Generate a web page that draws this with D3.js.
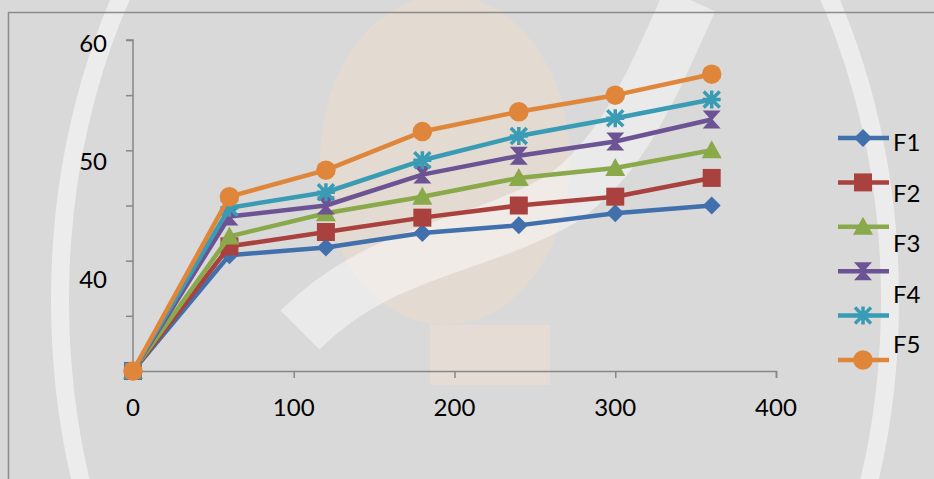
<!DOCTYPE html>
<html>
<head>
<meta charset="utf-8">
<script src="https://cdn.jsdelivr.net/npm/d3@7"></script>
<style>
  html, body { margin: 0; padding: 0; background: #d9d9d9; }
  svg { display: block; font-family: Lato, "Open Sans", sans-serif; }
</style>
</head>
<body>
<div id="chart"></div>
<script>
// ── Data ─────────────────────────────────────────────────────────────────
const times = [0, 60, 120, 180, 240, 300, 360];
const seriesNames = ['F1', 'F2', 'F3', 'F4', 'F5', 'F6'];
const f1 = [30, 40.5, 41.2, 42.5, 43.2, 44.3, 45.0];
const f2 = [30, 41.3, 42.6, 43.9, 45.0, 45.8, 47.5];
const f3 = [30, 42.2, 44.3, 45.8, 47.5, 48.4, 50.0];
const f4 = [30, 44.0, 45.0, 47.8, 49.5, 50.8, 52.8];
const f5 = [30, 44.8, 46.2, 49.1, 51.3, 52.9, 54.6];
const f6 = [30, 45.8, 48.2, 51.7, 53.5, 55.0, 56.9];
const xTicks = [0, 100, 200, 300, 400];
const yTicks = [30, 35, 40, 45, 50, 55, 60];
const yLabels = [40, 50, 60];

// ── Layout ───────────────────────────────────────────────────────────────
const WIDTH = 934;
const HEIGHT = 479;
const COLORS = ['#4270ad', '#a9413e', '#8aa94b', '#6c5393', '#3a9bb4', '#e0863b'];
const SHAPES = ['diamond', 'square', 'triangle', 'hourglass', 'star', 'circle'];
const AXIS_COLOR = '#878787';
const FONT_SIZE = 24;

const series = seriesNames.map((name, i) => ({
  name,
  values: [f1, f2, f3, f4, f5, f6][i],
  color: COLORS[i],
  shape: SHAPES[i]
}));

function markerPath(shape) {
  switch (shape) {
    case 'diamond': return 'M0,-9L9,0L0,9L-9,0Z';
    case 'square': return 'M-9,-9H9V9H-9Z';
    case 'triangle': return 'M0,-10L10,8H-10Z';
    case 'hourglass': return 'M-9,-9H9L1,0L9,9H-9L-1,0Z';
    case 'circle': return d3.symbol(d3.symbolCircle, 300)();
    default: return null;
  }
}

function drawMarker(g, shape, color) {
  if (shape === 'star') {
    g.append('path')
      .attr('d', 'M-8,-8L8,8M-8,8L8,-8M0,-9V9M-9,0H9')
      .attr('stroke', color)
      .attr('stroke-width', 3.5)
      .attr('fill', 'none');
  } else {
    g.append('path').attr('d', markerPath(shape)).attr('fill', color);
  }
}

const svg = d3.select('#chart').append('svg')
  .attr('width', WIDTH)
  .attr('height', HEIGHT);

// faint watermark behind the chart
const wm = svg.append('g');
wm.append('ellipse')
  .attr('cx', 445).attr('cy', 160).attr('rx', 125).attr('ry', 165)
  .attr('fill', '#f6dcc6').attr('opacity', 0.35);
wm.append('rect')
  .attr('x', 430).attr('y', 325).attr('width', 120).attr('height', 60)
  .attr('fill', '#f3e1d3').attr('opacity', 0.45);
wm.append('path')
  .attr('d', 'M300,330 C380,250 470,250 560,200 C620,160 650,90 690,0')
  .attr('stroke', '#ffffff').attr('stroke-width', 55).attr('fill', 'none').attr('opacity', 0.45);
wm.append('ellipse')
  .attr('cx', 475).attr('cy', 300).attr('rx', 415).attr('ry', 580)
  .attr('stroke', '#ffffff').attr('stroke-width', 18).attr('fill', 'none').attr('opacity', 0.5);

// chart area border
svg.append('rect')
  .attr('x', 8.5).attr('y', 12.5)
  .attr('width', WIDTH).attr('height', HEIGHT)
  .attr('fill', 'none')
  .attr('stroke', '#8c8c8c')
  .attr('stroke-width', 1.5);

// ── Scales ───────────────────────────────────────────────────────────────
const x = d3.scaleLinear().domain([0, 400]).range([133, 776]);
const y = d3.scaleLinear().domain([30, 60]).range([371, 40]);
// Excel drew the value labels on a slightly stretched grid
const yLabelPos = d3.scaleLinear().domain([40, 60]).range([280, 44]);

// ── Axes ─────────────────────────────────────────────────────────────────
const yAxis = svg.append('g')
  .attr('transform', `translate(${x(0)},0)`)
  .call(d3.axisLeft(y).tickValues(yTicks).tickSize(7).tickFormat(''));
const xAxis = svg.append('g')
  .attr('transform', `translate(0,${y(30)})`)
  .call(d3.axisBottom(x).tickValues(xTicks).tickSize(7).tickSizeOuter(7).tickFormat(''));
[xAxis, yAxis].forEach((a) => {
  a.selectAll('path, line').attr('stroke', AXIS_COLOR).attr('stroke-width', 1.5);
});
yAxis.select('.domain').attr('d', `M-7,${y(60)}H0V${y(30)}`);

svg.append('g').selectAll('text')
  .data(yLabels)
  .join('text')
  .attr('x', 107)
  .attr('y', (d) => yLabelPos(d))
  .attr('dy', '0.35em')
  .attr('text-anchor', 'end')
  .attr('font-size', FONT_SIZE)
  .text((d) => d);

svg.append('g').selectAll('text')
  .data(xTicks)
  .join('text')
  .attr('x', (d) => x(d))
  .attr('y', 408)
  .attr('dy', '0.35em')
  .attr('text-anchor', 'middle')
  .attr('font-size', FONT_SIZE)
  .text((d) => d);

// ── Series ───────────────────────────────────────────────────────────────
const line = d3.line()
  .x((d, i) => x(times[i]))
  .y((d) => y(d));

series.forEach((s) => {
  const g = svg.append('g');
  g.append('path')
    .attr('d', line(s.values))
    .attr('fill', 'none')
    .attr('stroke', s.color)
    .attr('stroke-width', 4.5)
    .attr('stroke-linejoin', 'round');
  s.values.forEach((v, i) => {
    const m = g.append('g').attr('transform', `translate(${x(times[i])},${y(v)})`);
    drawMarker(m, s.shape, s.color);
  });
});

// ── Legend ───────────────────────────────────────────────────────────────
const legendLineY = d3.scalePoint().domain(seriesNames).range([138, 360]);
const legendLabelY = d3.scalePoint().domain(seriesNames).range([143, 395]);

svg.append('clipPath').attr('id', 'legendClip')
  .append('rect').attr('x', 880).attr('y', 110).attr('width', 60).attr('height', 250);

const legend = svg.append('g');
series.forEach((s) => {
  const ly = legendLineY(s.name);
  legend.append('line')
    .attr('x1', 838).attr('x2', 889)
    .attr('y1', ly).attr('y2', ly)
    .attr('stroke', s.color)
    .attr('stroke-width', 4.5);
  const m = legend.append('g').attr('transform', `translate(863,${ly})`);
  drawMarker(m, s.shape, s.color);
});

legend.append('g').attr('clip-path', 'url(#legendClip)')
  .selectAll('text')
  .data(seriesNames)
  .join('text')
  .attr('x', 893)
  .attr('y', (d) => legendLabelY(d))
  .attr('dy', '0.35em')
  .attr('font-size', FONT_SIZE)
  .text((d) => d);
</script>
</body>
</html>
